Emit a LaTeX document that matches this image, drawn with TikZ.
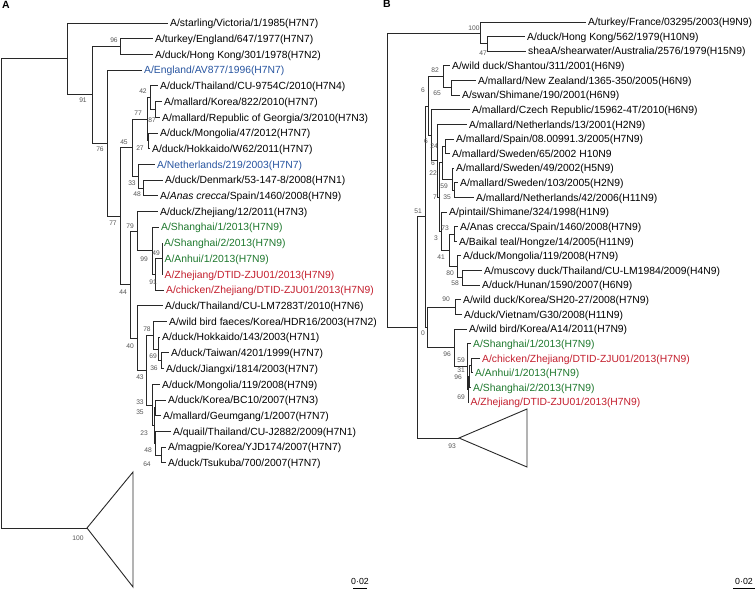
\documentclass[tikz,border=0pt]{standalone}
\usepackage{fontspec}
\setmainfont{Liberation Sans}
\definecolor{blu}{RGB}{40,85,160}
\definecolor{grn}{RGB}{30,120,45}
\definecolor{rd}{RGB}{195,30,45}
\definecolor{bsc}{RGB}{85,85,85}
\definecolor{lc}{RGB}{40,40,40}
\newcommand\tipfont{\fontsize{10.35}{12}\selectfont}
\newcommand\bsfont{\fontsize{6.7}{7}\selectfont}
\newcommand\Tip[5]{\node[tip,#5] (#1) at (#2) {#3}; \draw[br] (#4) |- (#1.west);}
\begin{document}
\begin{tikzpicture}[x=1pt,y=-1pt,
 br/.style={draw=lc,line width=0.9pt},
 tip/.style={anchor=west,inner xsep=2pt,inner ysep=0pt,text height=7.4pt,text depth=0pt,font=\tipfont,text=black},
 bs/.style={font=\bsfont,text=bsc,inner sep=0pt},
 cb/.style={text=blu}, cg/.style={text=grn}, cr/.style={text=rd},
 hd/.style={font=\bfseries\fontsize{10.5}{12}\selectfont,anchor=north west,inner sep=0pt},
 sb/.style={font=\fontsize{8.8}{10}\selectfont,inner sep=0pt}]
\useasboundingbox (0,0) rectangle (756,590);
\node[hd] (hA) at (2,1) {A};
\node[hd] (hB) at (383,0) {B};
% ---------------- Left tree ----------------
\coordinate (LR) at (1,293);
\coordinate (LA) at (67,58.9);
\coordinate (L91) at (92,94.8);
\coordinate (L96) at (120,46.55);
\coordinate (L76) at (107,143.1);
\coordinate (L77b) at (120,216.1);
\coordinate (L45) at (132,147.7);
\coordinate (L77a) at (147,119.2);
\coordinate (L42) at (150,97.6);
\coordinate (L87) at (155,109.45);
\coordinate (L27) at (148,140.85);
\coordinate (L33) at (138,176.2);
\coordinate (L48) at (143,188);
\coordinate (L44) at (130,284.5);
\coordinate (L79) at (137,231.1);
\coordinate (L99) at (152,250.8);
\coordinate (L91b) at (155,274.4);
\coordinate (L49) at (162,258.7);
\coordinate (L40) at (137,338);
\coordinate (L43) at (146,370.1);
\coordinate (L78) at (153,335.2);
\coordinate (L69) at (158,349);
\coordinate (L36) at (161,360.8);
\coordinate (L33b) at (152,405);
\coordinate (L35) at (154,425.6);
\coordinate (LKG) at (155,407.9);
\coordinate (L23) at (155,443.3);
\coordinate (L48b) at (161,455);
\coordinate (Ltri) at (87,528);
\coordinate (LtriT) at (133,472);
\coordinate (LtriB) at (133,587);
\draw[br] (LR) |- (LA);
\draw[br] (LR) |- (Ltri);
\draw[br] (Ltri) -- (LtriT) -- (LtriB) -- cycle;
\draw[br] (LA) |- (L91);
\draw[br] (L91) |- (L96);
\draw[br] (L91) |- (L76);
\draw[br] (L76) |- (L77b);
\draw[br] (L77b) |- (L45);
\draw[br] (L77b) |- (L44);
\draw[br] (L45) |- (L77a);
\draw[br] (L45) |- (L33);
\draw[br] (L77a) |- (L42);
\draw[br] (L77a) |- (L27);
\draw[br] (L42) |- (L87);
\draw[br] (L33) |- (L48);
\draw[br] (L44) |- (L79);
\draw[br] (L44) |- (L40);
\draw[br] (L79) |- (L99);
\draw[br] (L99) |- (L91b);
\draw[br] (L91b) |- (L49);
\draw[br] (L40) |- (L43);
\draw[br] (L43) |- (L78);
\draw[br] (L43) |- (L33b);
\draw[br] (L78) |- (L69);
\draw[br] (L69) |- (L36);
\draw[br] (L33b) |- (L35);
\draw[br] (L35) |- (LKG);
\draw[br] (L35) |- (L23);
\draw[br] (L23) |- (L48b);
\Tip{t0}{168,23.0}{A/starling/Victoria/1/1985(H7N7)}{LA}{}
\Tip{t1}{153,38.7}{A/turkey/England/647/1977(H7N7)}{L96}{}
\Tip{t2}{153,54.4}{A/duck/Hong Kong/301/1978(H7N2)}{L96}{}
\Tip{t3}{142,70.1}{A/England/AV877/1996(H7N7)}{L76}{cb}
\Tip{t4}{158,85.8}{A/duck/Thailand/CU-9754C/2010(H7N4)}{L42}{}
\Tip{t5}{162,101.6}{A/mallard/Korea/822/2010(H7N7)}{L87}{}
\Tip{t6}{160,117.3}{A/mallard/Republic of Georgia/3/2010(H7N3)}{L87}{}
\Tip{t7}{158,133.0}{A/duck/Mongolia/47/2012(H7N7)}{L27}{}
\Tip{t8}{150,148.7}{A/duck/Hokkaido/W62/2011(H7N7)}{L27}{}
\Tip{t9}{155,164.4}{A/Netherlands/219/2003(H7N7)}{L33}{cb}
\Tip{t10}{163,180.1}{A/duck/Denmark/53-147-8/2008(H7N1)}{L48}{}
\Tip{t11}{158,195.8}{A/\textit{Anas crecca}/Spain/1460/2008(H7N9)}{L48}{}
\Tip{t12}{158,211.5}{A/duck/Zhejiang/12/2011(H7N3)}{L79}{}
\Tip{t13}{159,227.2}{A/Shanghai/1/2013(H7N9)}{L99}{cg}
\Tip{t14}{162,242.9}{A/Shanghai/2/2013(H7N9)}{L49}{cg}
\Tip{t15}{162.5,258.7}{A/Anhui/1/2013(H7N9)}{L49}{cg}
\Tip{t16}{162.5,274.4}{A/Zhejiang/DTID-ZJU01/2013(H7N9)}{L49}{cr}
\Tip{t17}{164,290.1}{A/chicken/Zhejiang/DTID-ZJU01/2013(H7N9)}{L91b}{cr}
\Tip{t18}{163,305.8}{A/duck/Thailand/CU-LM7283T/2010(H7N6)}{L40}{}
\Tip{t19}{167,321.5}{A/wild bird faeces/Korea/HDR16/2003(H7N2)}{L78}{}
\Tip{t20}{160,337.2}{A/duck/Hokkaido/143/2003(H7N1)}{L69}{}
\Tip{t21}{169,352.9}{A/duck/Taiwan/4201/1999(H7N7)}{L36}{}
\Tip{t22}{164,368.6}{A/duck/Jiangxi/1814/2003(H7N7)}{L36}{}
\Tip{t23}{160,384.3}{A/duck/Mongolia/119/2008(H7N9)}{L33b}{}
\Tip{t24}{166,400.0}{A/duck/Korea/BC10/2007(H7N3)}{LKG}{}
\Tip{t25}{161,415.8}{A/mallard/Geumgang/1/2007(H7N7)}{LKG}{}
\Tip{t26}{171,431.5}{A/quail/Thailand/CU-J2882/2009(H7N1)}{L23}{}
\Tip{t27}{166,447.2}{A/magpie/Korea/YJD174/2007(H7N7)}{L48b}{}
\Tip{t28}{166,462.9}{A/duck/Tsukuba/700/2007(H7N7)}{L48b}{}
\node[bs] (bl1) at (114,40) {96};
\node[bs] (bl2) at (83,100) {91};
\node[bs] (bl3) at (100,149) {76};
\node[bs] (bl4) at (143,91) {42};
\node[bs] (bl5) at (138,113) {77};
\node[bs] (bl6) at (152,120) {87};
\node[bs] (bl7) at (124,142) {45};
\node[bs] (bl8) at (140,148) {27};
\node[bs] (bl9) at (132,183) {33};
\node[bs] (bl10) at (137,194) {48};
\node[bs] (bl11) at (113,223) {77};
\node[bs] (bl12) at (130,226) {79};
\node[bs] (bl13) at (144,259) {99};
\node[bs] (bl14) at (156,253) {49};
\node[bs] (bl15) at (153,282) {91};
\node[bs] (bl16) at (123,292) {44};
\node[bs] (bl17) at (147,329) {78};
\node[bs] (bl18) at (130,346) {40};
\node[bs] (bl19) at (153,356) {69};
\node[bs] (bl20) at (154,368) {36};
\node[bs] (bl21) at (140,377) {43};
\node[bs] (bl22) at (140,402) {33};
\node[bs] (bl23) at (140,412) {35};
\node[bs] (bl24) at (144,433) {23};
\node[bs] (bl25) at (148,450) {48};
\node[bs] (bl26) at (147,464) {64};
\node[bs] (bl27) at (78,538) {100};
\node[sb] (sbL) at (360,581) {0·02};
\coordinate (sbL1) at (353,588.5);
\coordinate (sbL2) at (367,588.5);
\draw[line width=1.6pt] (sbL1) -- (sbL2);
% ---------------- Right tree ----------------
\coordinate (RR) at (387,180);
\coordinate (R100) at (480,33);
\coordinate (R47) at (487,43.9);
\coordinate (RB) at (417,327.4);
\coordinate (R51) at (425,216.7);
\coordinate (R6a) at (428,106);
\coordinate (R82) at (443,76.9);
\coordinate (R65) at (451,87.8);
\coordinate (R6b) at (431,135.2);
\coordinate (R22) at (437,160.7);
\coordinate (R7) at (439,197);
\coordinate (R6c) at (442,162.7);
\coordinate (R24) at (445,146.3);
\coordinate (R59) at (452,179.2);
\coordinate (R35) at (454,190.1);
\coordinate (R3) at (441,231.3);
\coordinate (R41) at (449,250.4);
\coordinate (R73) at (454,234);
\coordinate (R80) at (457,266.9);
\coordinate (R58) at (462,277.9);
\coordinate (R0) at (427,327.4);
\coordinate (R90) at (455,307.1);
\coordinate (R96a) at (454,347.7);
\coordinate (R96b) at (467,366.5);
\coordinate (R69) at (468,389.3);
\coordinate (R59b) at (469,376.6);
\coordinate (R31) at (471,365.6);
\coordinate (Rtri) at (459,438);
\coordinate (RtriT) at (527,409);
\coordinate (RtriB) at (527,467);
\draw[br] (RR) |- (R100);
\draw[br] (RR) |- (RB);
\draw[br] (R100) |- (R47);
\draw[br] (RB) |- (R51);
\draw[br] (RB) |- (Rtri);
\draw[br] (Rtri) -- (RtriT) -- (RtriB) -- cycle;
\draw[br] (R51) |- (R6a);
\draw[br] (R51) |- (R0);
\draw[br] (R6a) |- (R82);
\draw[br] (R6a) |- (R6b);
\draw[br] (R82) |- (R65);
\draw[br] (R6b) |- (R22);
\draw[br] (R22) |- (R7);
\draw[br] (R7) |- (R6c);
\draw[br] (R7) |- (R3);
\draw[br] (R6c) |- (R24);
\draw[br] (R6c) |- (R59);
\draw[br] (R59) |- (R35);
\draw[br] (R3) |- (R41);
\draw[br] (R41) |- (R73);
\draw[br] (R41) |- (R80);
\draw[br] (R80) |- (R58);
\draw[br] (R0) |- (R90);
\draw[br] (R0) |- (R96a);
\draw[br] (R96a) |- (R96b);
\draw[br] (R96b) |- (R69);
\draw[br] (R69) |- (R59b);
\draw[br] (R59b) |- (R31);
\Tip{r0}{586,22.0}{A/turkey/France/03295/2003(H9N9)}{R100}{}
\Tip{r1}{525,36.6}{A/duck/Hong Kong/562/1979(H10N9)}{R47}{}
\Tip{r2}{526,51.2}{sheaA/shearwater/Australia/2576/1979(H15N9)}{R47}{}
\Tip{r3}{450,65.9}{A/wild duck/Shantou/311/2001(H6N9)}{R82}{}
\Tip{r4}{476,80.5}{A/mallard/New Zealand/1365-350/2005(H6N9)}{R65}{}
\Tip{r5}{460,95.1}{A/swan/Shimane/190/2001(H6N9)}{R65}{}
\Tip{r6}{470,109.7}{A/mallard/Czech Republic/15962-4T/2010(H6N9)}{R6b}{}
\Tip{r7}{467,124.3}{A/mallard/Netherlands/13/2001(H2N9)}{R22}{}
\Tip{r8}{454,139.0}{A/mallard/Spain/08.00991.3/2005(H7N9)}{R24}{}
\Tip{r9}{450,153.6}{A/mallard/Sweden/65/2002 H10N9}{R24}{}
\Tip{r10}{454,168.2}{A/mallard/Sweden/49/2002(H5N9)}{R59}{}
\Tip{r11}{458,182.8}{A/mallard/Sweden/103/2005(H2N9)}{R35}{}
\Tip{r12}{474,197.4}{A/mallard/Netherlands/42/2006(H11N9)}{R35}{}
\Tip{r13}{447,212.1}{A/pintail/Shimane/324/1998(H1N9)}{R3}{}
\Tip{r14}{458,226.7}{A/Anas crecca/Spain/1460/2008(H7N9)}{R73}{}
\Tip{r15}{457,241.3}{A/Baikal teal/Hongze/14/2005(H11N9)}{R73}{}
\Tip{r16}{461,255.9}{A/duck/Mongolia/119/2008(H7N9)}{R80}{}
\Tip{r17}{482,270.5}{A/muscovy duck/Thailand/CU-LM1984/2009(H4N9)}{R58}{}
\Tip{r18}{480,285.2}{A/duck/Hunan/1590/2007(H6N9)}{R58}{}
\Tip{r19}{461,299.8}{A/wild duck/Korea/SH20-27/2008(H7N9)}{R90}{}
\Tip{r20}{462,314.4}{A/duck/Vietnam/G30/2008(H11N9)}{R90}{}
\Tip{r21}{467,329.0}{A/wild bird/Korea/A14/2011(H7N9)}{R96a}{}
\Tip{r22}{471,343.6}{A/Shanghai/1/2013(H7N9)}{R96b}{cg}
\Tip{r23}{480,358.3}{A/chicken/Zhejiang/DTID-ZJU01/2013(H7N9)}{R31}{cr}
\Tip{r24}{473,372.9}{A/Anhui/1/2013(H7N9)}{R31}{cg}
\Tip{r25}{471,387.5}{A/Shanghai/2/2013(H7N9)}{R59b}{cg}
\Tip{r26}{468.5,402.1}{A/Zhejiang/DTID-ZJU01/2013(H7N9)}{R69}{cr}
\node[bs] (br1) at (474,28) {100};
\node[bs] (br2) at (483,53) {47};
\node[bs] (br3) at (435,70) {82};
\node[bs] (br4) at (437,93) {65};
\node[bs] (br5) at (423,90) {6};
\node[bs] (br6) at (426,141) {6};
\node[bs] (br7) at (434,146) {24};
\node[bs] (br8) at (433,163) {6};
\node[bs] (br9) at (433,173) {22};
\node[bs] (br10) at (444,186) {59};
\node[bs] (br11) at (435,197) {7};
\node[bs] (br12) at (447,197) {35};
\node[bs] (br13) at (418,211) {51};
\node[bs] (br14) at (445,228) {73};
\node[bs] (br15) at (436,238) {3};
\node[bs] (br16) at (441,257) {41};
\node[bs] (br17) at (450,273) {80};
\node[bs] (br18) at (455,283) {58};
\node[bs] (br19) at (446,299) {90};
\node[bs] (br20) at (423,333) {0};
\node[bs] (br21) at (447,354) {96};
\node[bs] (br22) at (461,360) {59};
\node[bs] (br23) at (461,370) {31};
\node[bs] (br24) at (458,377) {96};
\node[bs] (br25) at (461,397) {69};
\node[bs] (br26) at (452,446) {93};
\node[sb] (sbR) at (744,581) {0·02};
\coordinate (sbR1) at (733,588.5);
\coordinate (sbR2) at (755,588.5);
\draw[line width=1.6pt] (sbR1) -- (sbR2);
\end{tikzpicture}
\end{document}
